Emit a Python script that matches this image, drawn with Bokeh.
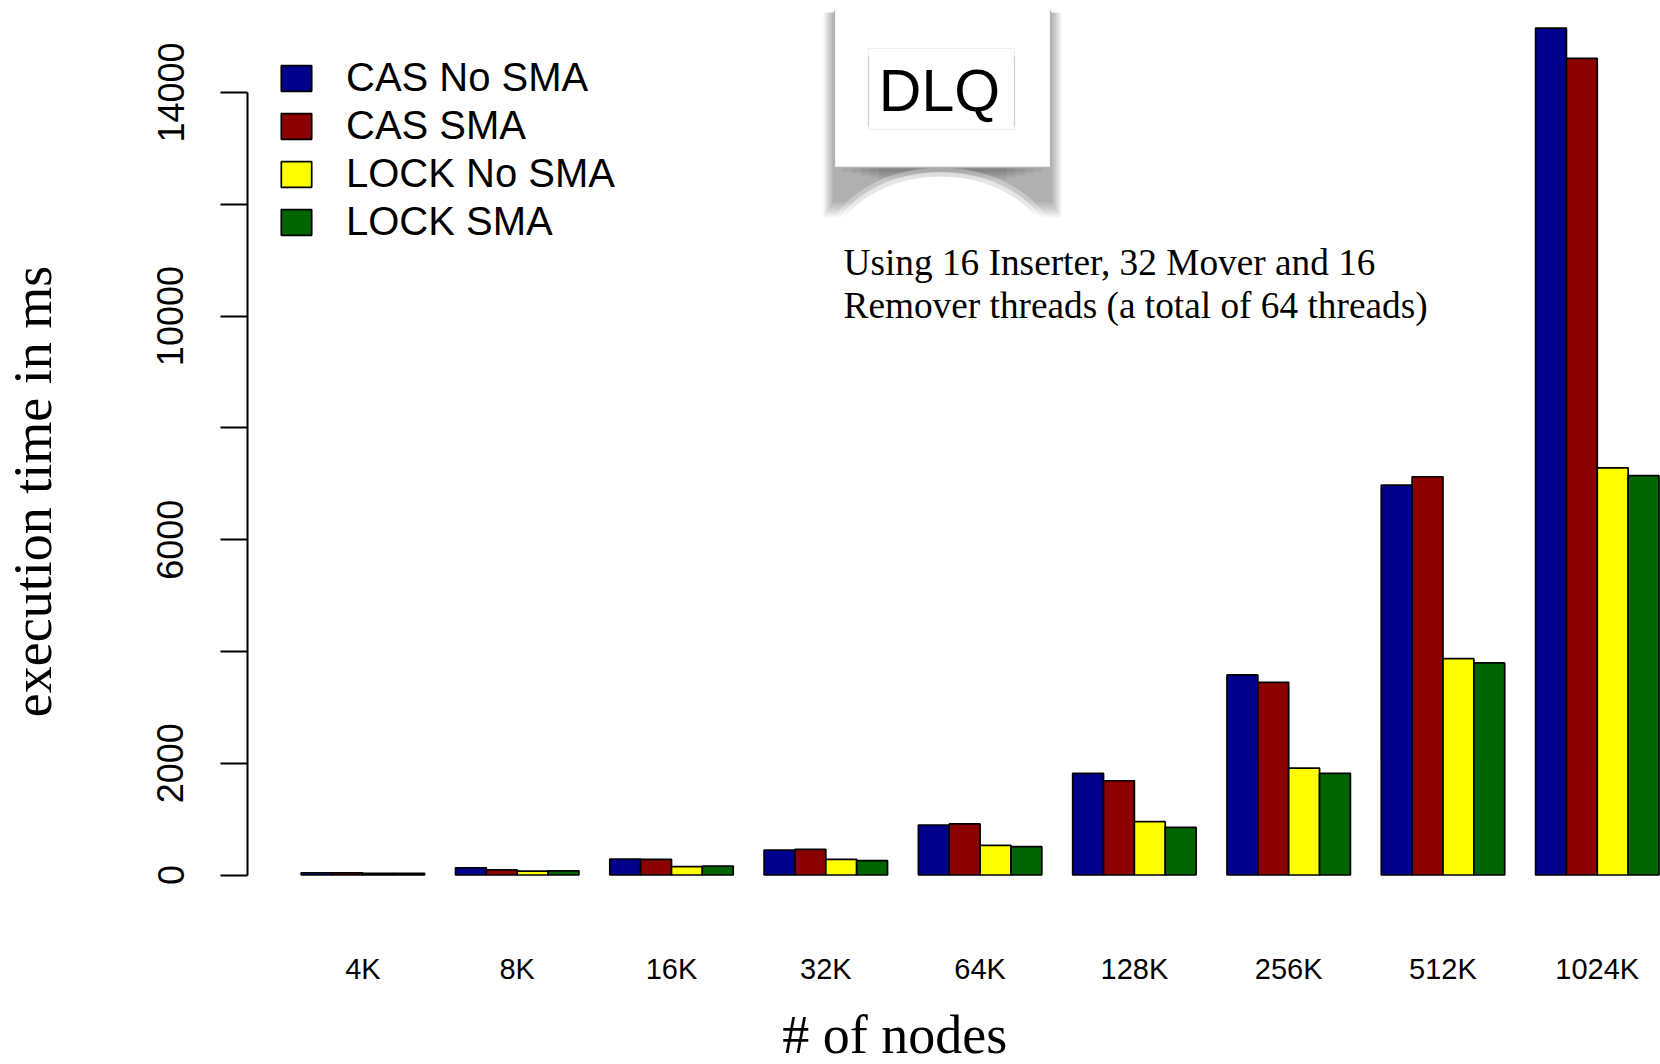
from bokeh.plotting import figure
from bokeh.models import Range1d, LinearAxis, FixedTicker, Legend, LegendItem, Title
from bokeh.core.properties import value
from bokeh.embed import file_html
from bokeh.resources import INLINE

# ---------------- data ----------------
nodes = ["4K", "8K", "16K", "32K", "64K", "128K", "256K", "512K", "1024K"]
series_names = ["CAS No SMA", "CAS SMA", "LOCK No SMA", "LOCK SMA"]
cas_no_sma = [40, 130, 286, 447, 895, 1818, 3580, 6975, 15150]
cas_sma = [38, 90, 280, 460, 913, 1686, 3448, 7125, 14610]
lock_no_sma = [30, 70, 149, 280, 531, 954, 1913, 3870, 7285]
lock_sma = [30, 75, 160, 256, 507, 853, 1818, 3795, 7145]
series_colors = ["#00008B", "#8B0000", "#FFFF00", "#006400"]
y_ticks = [0, 2000, 4000, 6000, 8000, 10000, 12000, 14000]
y_tick_labels = ["0", "2000", "", "6000", "", "10000", "", "14000"]
badge_text = "DLQ"
note_lines = ["Using 16 Inserter, 32 Mover and 16",
              "Remover threads (a total of 64 threads)"]
x_title = "# of nodes"
y_title = "execution time in ms"

# ---------------- layout (canvas pixels) ----------------
W, H = 1660, 1064
FL, FR, FT, FB = 247, 1660, 0, 876
Y0_PX, Y14K_PX = 874.5, 92.0
KY = (Y0_PX - Y14K_PX) / 14000.0
X1_PX, X45_PX = 300.7, 1658.5
UX = (X45_PX - X1_PX) / 44.0

x_start = 1 - (X1_PX - FL) / UX
x_end = 45 + (FR - X45_PX) / UX
y_start = -(FB - Y0_PX) / KY
y_end = (Y0_PX - FT) / KY


def px2x(px):
    return x_start + (px - FL) / UX


def px2y(py):
    return y_start + (FB - py) / KY


p = figure(width=W, height=H,
           x_range=Range1d(x_start, x_end), y_range=Range1d(y_start, y_end),
           x_axis_type=None, y_axis_type=None,
           output_backend="svg", toolbar_location=None,
           min_border_left=FL, min_border_right=W - FR,
           min_border_top=FT, min_border_bottom=H - FB)
p.outline_line_color = None
p.xgrid.visible = False
p.ygrid.visible = False
p.background_fill_color = "white"
p.border_fill_color = "white"

# ---------------- DLQ badge with curled shadow ----------------
BOX_L, BOX_R, BOX_T, BOX_B = 834, 1050, 10, 167
for i in range(8):
    e = 11 - 1.4 * i
    bot = 217 - 2.2 * i
    p.quad(left=px2x(BOX_L - e), right=px2x(BOX_R + e),
           top=px2y(BOX_T + 2), bottom=px2y(bot),
           fill_color="black", fill_alpha=0.045, line_color=None)
for i in range(5):
    p.quad(left=px2x(BOX_L + 8 + 9 * i), right=px2x(BOX_R - 8 - 9 * i),
           top=px2y(BOX_B), bottom=px2y(BOX_B + 4 + 2 * i),
           fill_color="black", fill_alpha=0.05, line_color=None)
for dw, a in [(18, 0.3), (9, 0.55), (0, 1.0)]:
    p.ellipse(x=px2x(940), y=px2y(257), width=220 + dw, height=162 + dw,
              width_units="screen", height_units="screen",
              fill_color="white", fill_alpha=a, line_color=None)
p.quad(left=px2x(BOX_L), right=px2x(BOX_R), top=px2y(BOX_T), bottom=px2y(BOX_B),
       fill_color="white", line_color=None)
p.segment(x0=[px2x(BOX_L), px2x(BOX_R), px2x(BOX_L)],
          y0=[px2y(BOX_T), px2y(BOX_T), px2y(BOX_B)],
          x1=[px2x(BOX_L), px2x(BOX_R), px2x(BOX_R)],
          y1=[px2y(BOX_B), px2y(BOX_B), px2y(BOX_B)],
          line_color="#b4b4b4", line_width=1.3)
p.quad(left=px2x(868), right=px2x(1014), top=px2y(48), bottom=px2y(129),
       fill_color="white", line_color="#efefef", line_width=1)
p.segment(x0=[px2x(868), px2x(1014)], y0=[px2y(56), px2y(56)],
          x1=[px2x(868), px2x(1014)], y1=[px2y(126), px2y(126)],
          line_color="#cfcfcf", line_width=1.2)
p.text(x=[px2x(939)], y=[px2y(90.8)], text=[badge_text],
       text_font=value("Liberation Sans"), text_font_size="59px",
       text_align="center", text_baseline="alphabetic", text_color="black")

# ---------------- note text ----------------
p.text(x=[px2x(843)] * 2, y=[px2y(261.5), px2y(304.9)], text=note_lines,
       text_font=value("Liberation Serif"), text_font_size="37.3px",
       text_align="left", text_baseline="alphabetic", text_color="black")

# ---------------- bars ----------------
all_series = [cas_no_sma, cas_sma, lock_no_sma, lock_sma]
renderers = []
for j, (vals, col) in enumerate(zip(all_series, series_colors)):
    xs = [5 * i + 1 + j + 0.5 for i in range(len(nodes))]
    r = p.vbar(x=xs, width=1.0, top=vals, bottom=0,
               fill_color=col, line_color="black", line_width=1.7)
    renderers.append(r)

# ---------------- axes ----------------
yaxis = LinearAxis(bounds=(0, 14000), ticker=FixedTicker(ticks=y_ticks))
yaxis.major_label_overrides = {t: lab for t, lab in zip(y_ticks, y_tick_labels)}
yaxis.major_label_orientation = "vertical"
yaxis.major_label_text_font = "Liberation Sans"
yaxis.major_label_text_font_size = "36px"
yaxis.major_label_text_color = "black"
yaxis.major_label_standoff = 37
yaxis.major_tick_out = 27
yaxis.major_tick_in = 0
yaxis.minor_tick_line_color = None
yaxis.axis_line_width = 2
yaxis.major_tick_line_width = 2
p.add_layout(yaxis, "left")


def spacer_axis(size, at):
    # an unlabeled axis whose single tick is white on white: it only reserves
    # room between an axis and its title
    ax = LinearAxis(ticker=FixedTicker(ticks=[at]))
    ax.major_label_overrides = {at: ""}
    ax.major_label_text_font_size = "1px"
    ax.axis_line_color = None
    ax.major_tick_line_color = "white"
    ax.minor_tick_line_color = None
    ax.major_tick_out = size
    ax.major_tick_in = 0
    ax.minor_tick_out = 0
    ax.minor_tick_in = 0
    ax.major_label_standoff = 0
    return ax


p.add_layout(spacer_axis(90, 4000), "left")

group_centers = [5 * i + 3 for i in range(len(nodes))]
xaxis = LinearAxis(ticker=FixedTicker(ticks=group_centers))
xaxis.major_label_overrides = {c: n for c, n in zip(group_centers, nodes)}
xaxis.axis_line_color = None
xaxis.major_tick_line_color = None
xaxis.minor_tick_line_color = None
xaxis.major_label_text_font = "Liberation Sans"
xaxis.major_label_text_font_size = "29px"
xaxis.major_label_text_color = "black"
xaxis.major_label_standoff = 70
p.add_layout(xaxis, "below")
p.add_layout(spacer_axis(15, 0), "below")

# axis titles, placed as R places them (centred on R's plot region)
p.add_layout(Title(text=x_title, align="left", offset=534.7,
                   vertical_align="bottom", standoff=0,
                   text_font="Liberation Serif", text_font_size="54px",
                   text_font_style="normal", text_color="black"), "below")
p.add_layout(Title(text=y_title, align="left", offset=159.3,
                   vertical_align="top", standoff=0,
                   text_font="Liberation Serif", text_font_size="54px",
                   text_font_style="normal", text_color="black"), "left")

# ---------------- legend ----------------
legend = Legend(items=[LegendItem(label=n, renderers=[r]) for n, r in zip(series_names, renderers)],
                location=(30, 632), orientation="vertical",
                glyph_width=38, glyph_height=32, label_standoff=31,
                label_text_font="Liberation Sans", label_text_font_size="40px",
                label_text_color="black", spacing=3, padding=0, margin=0,
                border_line_color=None, background_fill_alpha=0)
p.add_layout(legend)

open("out.html", "w").write(file_html(p, INLINE))
